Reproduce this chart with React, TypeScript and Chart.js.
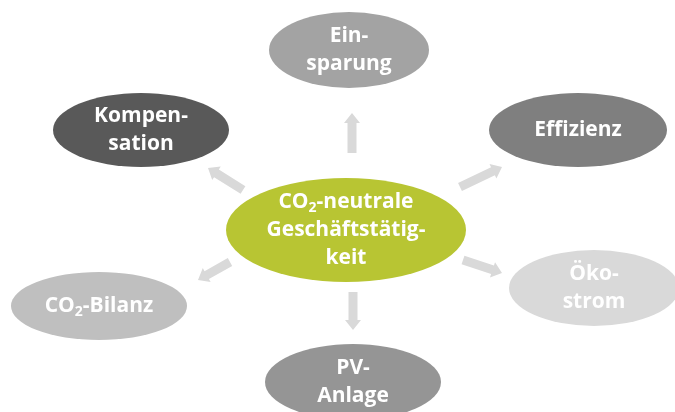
import React, { useEffect, useRef } from "react";
import { Chart, registerables } from "chart.js";

Chart.register(...registerables);

// Nodes: index 0 is the hub
const nodeLabels: string[][] = [
  ["CO_2-neutrale", "Geschäftstätig-", "keit"],
  ["Ein-", "sparung"],
  ["Effizienz"],
  ["Öko-", "strom"],
  ["PV-", "Anlage"],
  ["CO_2-Bilanz"],
  ["Kompen-", "sation"],
];
const nodeX = [346, 349, 578, 594, 353, 99, 141];
const nodeY = [230, 50, 130, 288, 382, 306, 130];
const nodeRx = [120, 80, 89, 85, 88, 88, 88];
const nodeRy = [52, 38, 37, 38, 38, 34, 37];
const nodeColors = ["#b8c533", "#a3a3a3", "#7f7f7f", "#d9d9d9", "#959595", "#bfbfbf", "#595959"];

// Arrows from the hub to each outer node (Einsparung, Effizienz, Ökostrom, PV, CO2-Bilanz, Kompensation)
const arrowTailX = [352, 460, 463, 353, 230, 243];
const arrowTailY = [153, 187, 260, 292, 262, 190];
const arrowTipX = [352, 502, 502, 353, 198, 208];
const arrowTipY = [113, 167, 273, 330, 280, 168];
const arrowColor = "#d9d9d9";

const FONT = "'Open Sans', sans-serif";
const FS = 21;
const LH = 28;

function drawRich(ctx: CanvasRenderingContext2D, text: string, cx: number, cy: number) {
  const parts: { t: string; sub: boolean }[] = [];
  const m = text.split("_");
  parts.push({ t: m[0], sub: false });
  for (let i = 1; i < m.length; i++) {
    parts.push({ t: m[i].charAt(0), sub: true });
    parts.push({ t: m[i].slice(1), sub: false });
  }
  const main = `bold ${FS}px ${FONT}`;
  const sub = `bold ${Math.round(FS * 0.65)}px ${FONT}`;
  let total = 0;
  const widths = parts.map((p) => {
    ctx.font = p.sub ? sub : main;
    const w = ctx.measureText(p.t).width;
    total += w;
    return w;
  });
  let x = cx - total / 2;
  ctx.textAlign = "left";
  ctx.textBaseline = "middle";
  parts.forEach((p, i) => {
    ctx.font = p.sub ? sub : main;
    ctx.fillText(p.t, x, p.sub ? cy + 6 : cy);
    x += widths[i];
  });
}

const diagramPlugin = {
  id: "diagram",
  afterDatasetsDraw(chart: any) {
    const ctx: CanvasRenderingContext2D = chart.ctx;
    const xs = chart.scales.x;
    const ys = chart.scales.y;
    const px = (v: number) => xs.getPixelForValue(v);
    const py = (v: number) => ys.getPixelForValue(v);
    ctx.save();
    // arrows
    for (let i = 0; i < arrowTailX.length; i++) {
      const x1 = px(arrowTailX[i]), y1 = py(arrowTailY[i]);
      const x2 = px(arrowTipX[i]), y2 = py(arrowTipY[i]);
      const ang = Math.atan2(y2 - y1, x2 - x1);
      const len = Math.hypot(x2 - x1, y2 - y1);
      const hw = 4.5, hh = 8, hl = 10;
      ctx.save();
      ctx.translate(x1, y1);
      ctx.rotate(ang);
      ctx.fillStyle = arrowColor;
      ctx.beginPath();
      ctx.moveTo(0, -hw);
      ctx.lineTo(len - hl, -hw);
      ctx.lineTo(len - hl, -hh);
      ctx.lineTo(len, 0);
      ctx.lineTo(len - hl, hh);
      ctx.lineTo(len - hl, hw);
      ctx.lineTo(0, hw);
      ctx.closePath();
      ctx.fill();
      ctx.restore();
    }
    // ellipses
    for (let i = 0; i < nodeX.length; i++) {
      const cx = px(nodeX[i]), cy = py(nodeY[i]);
      const rx = Math.abs(px(nodeX[i] + nodeRx[i]) - cx);
      const ry = Math.abs(py(nodeY[i] + nodeRy[i]) - cy);
      ctx.fillStyle = nodeColors[i];
      ctx.beginPath();
      ctx.ellipse(cx, cy, rx, ry, 0, 0, Math.PI * 2);
      ctx.fill();
      ctx.fillStyle = "#ffffff";
      const lines = nodeLabels[i];
      const y0 = cy - ((lines.length - 1) * LH) / 2;
      lines.forEach((l, k) => drawRich(ctx, l, cx, y0 + k * LH));
    }
    ctx.restore();
  },
};

export default function App() {
  const ref = useRef<HTMLCanvasElement>(null);
  useEffect(() => {
    if (!ref.current) return;
    const chart = new Chart(ref.current, {
      type: "scatter",
      data: {
        datasets: [
          {
            data: nodeX.map((x, i) => ({ x, y: nodeY[i] })),
            pointRadius: 0,
            pointHoverRadius: 0,
          },
        ],
      },
      options: {
        responsive: false,
        maintainAspectRatio: false,
        animation: false,
        events: [],
        layout: { padding: 0 },
        plugins: { legend: { display: false }, tooltip: { enabled: false } },
        scales: {
          x: { type: "linear", min: 0, max: 675, display: false },
          y: { type: "linear", min: 0, max: 412, reverse: true, display: false },
        },
      },
      plugins: [diagramPlugin],
    });
    return () => chart.destroy();
  }, []);
  return (
    <div style={{ position: "fixed", left: 0, top: 0, width: 675, height: 412, background: "#fff" }}>
      <canvas ref={ref} width={675} height={412} style={{ width: 675, height: 412, display: "block" }} />
    </div>
  );
}
